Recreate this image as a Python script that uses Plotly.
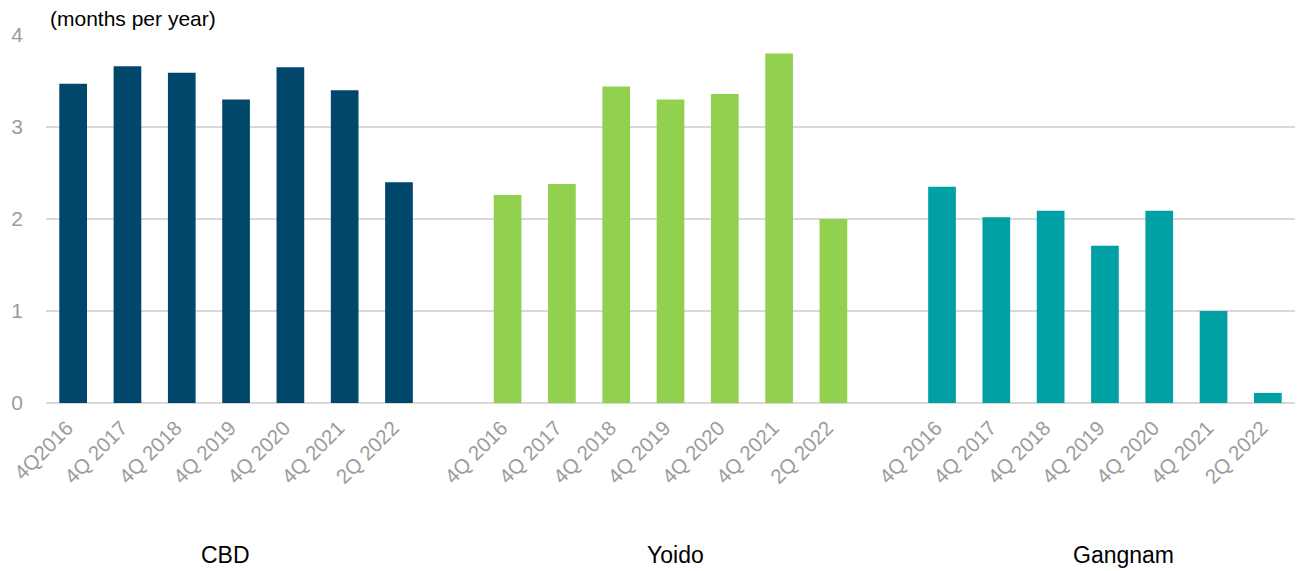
import plotly.graph_objects as go

groups = ["CBD", "Yoido", "Gangnam"]
periods_cbd = ["4Q2016", "4Q 2017", "4Q 2018", "4Q 2019", "4Q 2020", "4Q 2021", "2Q 2022"]
periods_other = ["4Q 2016", "4Q 2017", "4Q 2018", "4Q 2019", "4Q 2020", "4Q 2021", "2Q 2022"]
cbd_values = [3.47, 3.66, 3.59, 3.30, 3.65, 3.40, 2.40]
yoido_values = [2.26, 2.38, 3.44, 3.30, 3.36, 3.80, 2.00]
gangnam_values = [2.35, 2.02, 2.09, 1.71, 2.09, 1.00, 0.11]
colors = ["#00476B", "#92D050", "#00A0A4"]

series = [cbd_values, yoido_values, gangnam_values]
labels = [periods_cbd, periods_other, periods_other]

fig = go.Figure()
tickvals, ticktext = [], []
slot = 8  # 7 bars + 1 blank slot per group
for g, (name, vals, labs, col) in enumerate(zip(groups, series, labels, colors)):
    xs = [g * slot + i for i in range(len(vals))]
    tickvals += xs
    ticktext += labs
    fig.add_trace(go.Bar(x=xs, y=vals, name=name, marker=dict(color=col, line=dict(width=0)),
                         width=0.51, showlegend=False))

FONT = "Liberation Sans, Arial, sans-serif"
tick_font = dict(family=FONT, size=20.5, color="#9C9C9C")

fig.update_layout(
    width=1297, height=571,
    margin=dict(l=46, r=2, t=35, b=168),
    paper_bgcolor="white", plot_bgcolor="white",
    barmode="overlay",
    font=dict(family=FONT),
    xaxis=dict(range=[-0.5, 22.5], tickvals=tickvals, ticktext=ticktext, tickangle=-45,
               tickfont=tick_font, showgrid=False, zeroline=False, showline=False, ticks="",
               ticklabelshift=-6, ticklabelstandoff=8),
    yaxis=dict(range=[0, 4], tickvals=[0, 1, 2, 3, 4], tickfont=dict(family=FONT, size=21, color="#9C9C9C"),
               showgrid=True, gridcolor="#D9D9D9", gridwidth=2, zeroline=True, zerolinecolor="#D9D9D9",
               zerolinewidth=2, showline=False, ticks="", ticklabelstandoff=22),
)

fig.add_annotation(text="(months per year)", xref="paper", yref="paper", x=0.002, y=1.044,
                   xanchor="left", yanchor="middle", showarrow=False,
                   font=dict(size=21, color="black", family=FONT))

group_label_x = [2.8, 11.1, 19.35]
for name, gx in zip(groups, group_label_x):
    fig.add_annotation(text=name, xref="x", yref="paper", x=gx, y=-0.413,
                       xanchor="center", yanchor="middle", showarrow=False,
                       font=dict(size=23, color="black", family=FONT))

fig.write_html("out.html")
